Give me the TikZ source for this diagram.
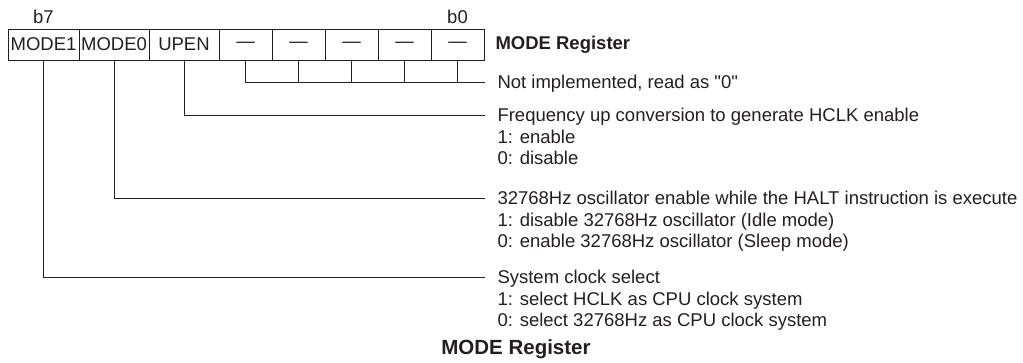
\documentclass[tikz,border=0pt]{standalone}
\usepackage{fontspec}
\newfontfamily\regfont{Liberation Sans}
\usepackage{tikz}
\usetikzlibrary{positioning}
\definecolor{regink}{RGB}{35,31,32}

\begin{document}
\begin{tikzpicture}[x=1pt, y=1pt, line width=1pt, color=regink,
  font=\regfont\fontsize{18.5}{21}\selectfont,
  bitcell/.style={draw, outer sep=0pt, inner sep=0pt, minimum height=31pt},
  desc/.style={anchor=west, inner sep=0pt, text height=13.2pt, text depth=0pt},
  descsub/.style={anchor=north west, inner sep=0pt, align=left},
  regtitle/.style={inner sep=0pt, font=\regfont\fontsize{18.5}{21}\selectfont\bfseries}]
  \useasboundingbox (0,0) rectangle (1023,-362);
  % register cells, b7 to b0
  \node[bitcell, minimum width=71pt, anchor=west] (c7) at (8,-44.5) {MODE1};
  \node[bitcell, minimum width=70pt, right=0pt of c7] (c6) {MODE0};
  \node[bitcell, minimum width=70pt, right=0pt of c6] (c5) {UPEN};
  \foreach \i/\j in {4/5,3/4,2/3,1/2,0/1}
    \node[bitcell, minimum width=53pt, right=0pt of c\j] (c\i) {—};
  \node[inner sep=0pt, above=5pt of c7.north] (b7) {b7};
  \node[inner sep=0pt, above=5pt of c0.north] (b0) {b0};
  \node[regtitle, anchor=west, right=11pt of c0] (hdr) {MODE Register};
  % bit descriptions
  \node[desc] (nimp) at (497,-82) {Not implemented, read as "0"};
  \node[desc] (upen) at (497,-115) {Frequency up conversion to generate HCLK enable};
  \node[descsub] (upend) at ([yshift=-7.5pt]upen.south west) {1: enable\\0: disable};
  \node[desc] (mode0) at (497,-198) {32768Hz oscillator enable while the HALT instruction is execute};
  \node[descsub] (mode0d) at ([yshift=-7.5pt]mode0.south west) {1: disable 32768Hz oscillator (Idle mode)\\0: enable 32768Hz oscillator (Sleep mode)};
  \node[desc] (mode1) at (497,-277) {System clock select};
  \node[descsub] (mode1d) at ([yshift=-7.5pt]mode1.south west) {1: select HCLK as CPU clock system\\0: select 32768Hz as CPU clock system};
  \node[regtitle, font=\regfont\fontsize{20.5}{23}\selectfont\bfseries] (caption) at (516,-349) {MODE Register};
  % leader lines
  \draw (c7.south) |- ([xshift=-12pt]mode1.west);
  \draw (c6.south) |- ([xshift=-12pt]mode0.west);
  \draw (c5.south) |- ([xshift=-12pt]upen.west);
  \draw (c4.south) |- ([xshift=-12pt]nimp.west);
  \foreach \i in {3,2,1,0}
    \draw (c\i.south) -- (c\i.south |- nimp.west);
\end{tikzpicture}
\end{document}
